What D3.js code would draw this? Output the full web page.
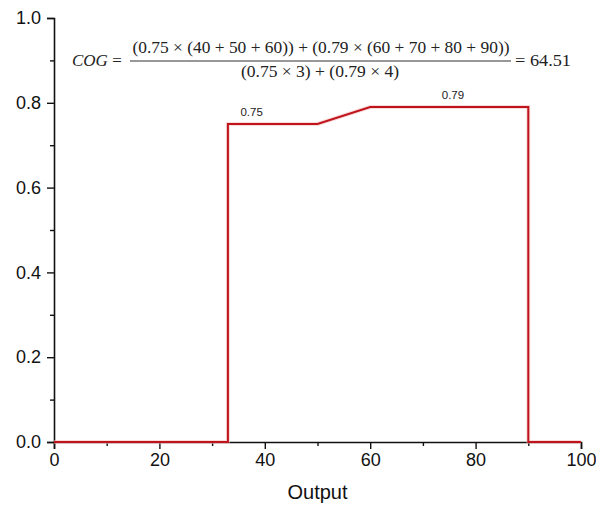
<!DOCTYPE html>
<html><head><meta charset="utf-8">
<script src="https://cdn.jsdelivr.net/npm/d3@7"></script>
<style>body{margin:0;background:#fff}</style>
</head><body>
<svg id="chart" width="596" height="508"></svg>
<script>
const outputX = [0, 33, 33, 50, 60, 90, 90, 100];
const membership = [0, 0, 0.75, 0.75, 0.79, 0.79, 0, 0];
const xTicks = [0, 20, 40, 60, 80, 100];
const yTicks = [0.0, 0.2, 0.4, 0.6, 0.8, 1.0];
const xMinor = [10, 30, 50, 70, 90];
const yMinor = [0.1, 0.3, 0.5, 0.7, 0.9];
const peakLabels = [{x: 37.5, y: 0.75, text: "0.75"}, {x: 75.7, y: 0.79, text: "0.79"}];

const svg = d3.select("#chart");
const x = d3.scaleLinear().domain([0, 100]).range([54, 581]);
const y = d3.scaleLinear().domain([0, 1]).range([442, 18]);

// axes
svg.append("g").attr("transform", `translate(0,${y(0)})`)
  .call(d3.axisBottom(x).tickValues(xTicks).tickFormat(d3.format("d")).tickSize(7).tickPadding(4));
svg.append("g").attr("transform", `translate(0,${y(0)})`)
  .call(d3.axisBottom(x).tickValues(xMinor).tickFormat("").tickSize(4)).select(".domain").remove();
svg.append("g").attr("transform", `translate(${x(0)},0)`)
  .call(d3.axisLeft(y).tickValues(yTicks).tickFormat(d3.format(".1f")).tickSize(7).tickPadding(6));
svg.append("g").attr("transform", `translate(${x(0)},0)`)
  .call(d3.axisLeft(y).tickValues(yMinor).tickFormat("").tickSize(4)).select(".domain").remove();

svg.selectAll(".domain").attr("stroke", "#111").attr("stroke-width", 1.6);
svg.selectAll(".tick line").attr("stroke", "#111").attr("stroke-width", 1.4);
svg.selectAll(".tick text").attr("font-family", "Liberation Sans, Arial, sans-serif")
  .attr("font-size", 18).attr("fill", "#111");

// axis title
svg.append("text").attr("x", x(50)).attr("y", 499).attr("text-anchor", "middle")
  .attr("font-family", "Liberation Sans, Arial, sans-serif").attr("font-size", 20).attr("fill", "#111")
  .text("Output");

// series
const line = d3.line().x((d, i) => x(outputX[i])).y(d => y(d));
svg.append("path").datum(membership).attr("d", line)
  .attr("fill", "none").attr("stroke", "#f2b8b8").attr("stroke-width", 4).attr("opacity", 0.5);
svg.append("path").datum(membership).attr("d", line)
  .attr("fill", "none").attr("stroke", "#c0141c").attr("stroke-width", 2).attr("stroke-linejoin", "miter");

// peak labels
svg.selectAll(".pl").data(peakLabels).enter().append("text")
  .attr("x", d => x(d.x)).attr("y", d => y(d.y) - 8).attr("text-anchor", "middle")
  .attr("font-family", "Liberation Sans, Arial, sans-serif").attr("font-size", 11.5).attr("fill", "#222")
  .text(d => d.text);

// formula
const ff = "Liberation Serif, DejaVu Serif, serif";
const f = svg.append("g").attr("font-family", ff).attr("fill", "#222");
f.append("text").attr("x", 72).attr("y", 66).attr("font-size", 17)
  .html('<tspan font-style="italic">COG</tspan> =');
f.append("text").attr("x", 321).attr("y", 53).attr("text-anchor", "middle").attr("font-size", 16.5)
  .attr("textLength", 377).attr("lengthAdjust", "spacingAndGlyphs")
  .text("(0.75 × (40 + 50 + 60)) + (0.79 × (60 + 70 + 80 + 90))");
f.append("line").attr("x1", 130).attr("x2", 511).attr("y1", 61).attr("y2", 61)
  .attr("stroke", "#333").attr("stroke-width", 1.1);
f.append("text").attr("x", 320).attr("y", 77).attr("text-anchor", "middle").attr("font-size", 16.5)
  .attr("textLength", 158).attr("lengthAdjust", "spacingAndGlyphs")
  .text("(0.75 × 3) + (0.79 × 4)");
f.append("text").attr("x", 515).attr("y", 66).attr("font-size", 17)
  .attr("textLength", 56).attr("lengthAdjust", "spacingAndGlyphs").text("= 64.51");
</script>
</body></html>
